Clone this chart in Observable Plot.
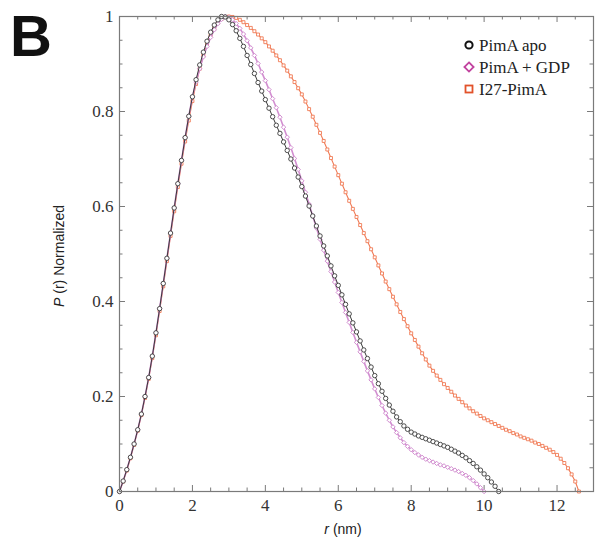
<!DOCTYPE html>
<html><head><meta charset="utf-8">
<script src="https://cdn.jsdelivr.net/npm/d3@7"></script>
<script src="https://cdn.jsdelivr.net/npm/@observablehq/plot@0.6"></script>
<style>
body{margin:0;background:#fff;}
#wrap{position:relative;width:602px;height:544px;}
</style></head><body><div id="wrap"></div>
<script>
// sampling grid of r (nm)
const rStep = 0.1;
// PimA apo, r = 0 .. 10.4
const apo = [0,0.022,0.046,0.072,0.100,0.130,0.163,0.200,0.240,0.285,
0.334,0.385,0.438,0.491,0.544,0.597,0.648,0.697,0.745,0.790,
0.831,0.867,0.898,0.925,0.948,0.967,0.982,0.993,1.000,0.999,
0.993,0.983,0.970,0.954,0.937,0.918,0.899,0.880,0.861,0.843,
0.825,0.807,0.789,0.771,0.754,0.736,0.718,0.700,0.681,0.662,
0.642,0.622,0.601,0.580,0.559,0.538,0.517,0.496,0.475,0.454,
0.434,0.414,0.394,0.374,0.355,0.336,0.317,0.298,0.280,0.262,
0.244,0.227,0.211,0.196,0.182,0.169,0.157,0.147,0.138,0.131,
0.125,0.121,0.117,0.114,0.111,0.108,0.105,0.102,0.099,0.096,
0.093,0.089,0.085,0.081,0.076,0.071,0.065,0.059,0.052,0.045,
0.037,0.029,0.020,0.011,0.000];
// PimA + GDP, r = 0 .. 10.0
const gdp = [0,0.022,0.046,0.072,0.100,0.130,0.163,0.200,0.240,0.285,
0.334,0.385,0.438,0.491,0.544,0.597,0.648,0.697,0.745,0.790,
0.831,0.862,0.890,0.915,0.937,0.956,0.972,0.985,0.994,1.000,
0.998,0.993,0.985,0.975,0.963,0.949,0.934,0.918,0.901,0.883,
0.865,0.846,0.827,0.808,0.788,0.767,0.746,0.724,0.701,0.678,
0.654,0.630,0.605,0.580,0.555,0.531,0.508,0.485,0.463,0.441,
0.419,0.398,0.377,0.356,0.335,0.314,0.294,0.274,0.254,0.235,
0.216,0.198,0.181,0.165,0.150,0.136,0.124,0.113,0.103,0.095,
0.088,0.082,0.077,0.072,0.068,0.065,0.062,0.059,0.056,0.054,
0.051,0.048,0.045,0.042,0.038,0.034,0.029,0.023,0.016,0.008,
0.000];
// I27-PimA, r = 0 .. 12.6
const i27 = [0,0.021,0.044,0.070,0.098,0.128,0.161,0.197,0.237,0.281,
0.329,0.380,0.432,0.485,0.538,0.590,0.641,0.690,0.737,0.781,
0.822,0.858,0.890,0.918,0.942,0.961,0.976,0.987,0.995,0.999,
1.000,0.999,0.997,0.993,0.988,0.982,0.976,0.969,0.962,0.954,
0.946,0.937,0.928,0.918,0.908,0.897,0.886,0.874,0.862,0.849,
0.836,0.821,0.805,0.789,0.772,0.755,0.738,0.720,0.702,0.684,
0.666,0.648,0.630,0.612,0.595,0.578,0.561,0.544,0.527,0.510,
0.493,0.476,0.459,0.442,0.426,0.410,0.394,0.378,0.363,0.348,
0.333,0.319,0.305,0.291,0.278,0.265,0.254,0.244,0.235,0.226,
0.218,0.210,0.202,0.195,0.188,0.181,0.175,0.169,0.164,0.159,
0.154,0.150,0.146,0.142,0.138,0.134,0.130,0.127,0.123,0.120,
0.116,0.113,0.110,0.107,0.103,0.100,0.096,0.092,0.088,0.083,
0.077,0.069,0.060,0.049,0.036,0.021,0.000];

const seriesNames = ["PimA apo", "PimA + GDP", "I27-PimA"];
const xTicks = [0, 2, 4, 6, 8, 10, 12];
const xMinor = [0,0.5,1,1.5,2,2.5,3,3.5,4,4.5,5,5.5,6,6.5,7,7.5,8,8.5,9,9.5,10,10.5,11,11.5,12,12.5,13];
const yTicks = [0, 0.2, 0.4, 0.6, 0.8, 1];
const yTickLabels = ["0", "0.2", "0.4", "0.6", "0.8", "1"];
const yMinor = [0,0.05,0.1,0.15,0.2,0.25,0.3,0.35,0.4,0.45,0.5,0.55,0.6,0.65,0.7,0.75,0.8,0.85,0.9,0.95,1];

const toRows = (vals, s) => vals.map((p, i) => ({r: +(i * rStep).toFixed(1), p, s}));
const apoRows = toRows(apo, seriesNames[0]);
const gdpRows = toRows(gdp, seriesNames[1]);
const i27Rows = toRows(i27, seriesNames[2]);

const W = 602, H = 544, mL = 119, mR = 9, mT = 16, mB = 53;
const xMax = 13;
const pxX = (W - mL - mR) / xMax, pxY = (H - mT - mB);
const majX = 6 / pxX, minX = 3.5 / pxX, majY = 6 / pxY, minY = 3.5 / pxY;
const isMajX = d => xTicks.includes(d);
const isMajY = d => yTicks.includes(d);
const tickColor = "#7a7a7a";

const cBlack = "#3a3a3a", cPink = "#d28ed0", cOrange = "#f07a55";

const chart = Plot.plot({
  width: W, height: H,
  marginLeft: mL, marginRight: mR, marginTop: mT, marginBottom: mB,
  x: {domain: [0, xMax]},
  y: {domain: [0, 1]},
  style: {fontFamily: "'Liberation Serif', 'Times New Roman', serif", background: "white", overflow: "visible"},
  marks: [
    // inward ticks on all four sides
    Plot.ruleX(xMinor, {x: d => d, y1: 0, y2: d => isMajX(d) ? majY : minY, stroke: tickColor, strokeWidth: 1}),
    Plot.ruleX(xMinor, {x: d => d, y1: 1, y2: d => 1 - (isMajX(d) ? majY : minY), stroke: tickColor, strokeWidth: 1}),
    Plot.ruleY(yMinor, {y: d => d, x1: 0, x2: d => isMajY(d) ? majX : minX, stroke: tickColor, strokeWidth: 1}),
    Plot.ruleY(yMinor, {y: d => d, x1: xMax, x2: d => xMax - (isMajY(d) ? majX : minX), stroke: tickColor, strokeWidth: 1}),
    // data
    Plot.line(i27Rows, {x: "r", y: "p", stroke: cOrange, strokeWidth: 1.1}),
    Plot.dot(i27Rows, {x: "r", y: "p", symbol: "square2", r: 1.9, stroke: cOrange, strokeWidth: 0.9, fill: "white"}),
    Plot.line(gdpRows, {x: "r", y: "p", stroke: cPink, strokeWidth: 1.6}),
    Plot.dot(gdpRows, {x: "r", y: "p", symbol: "diamond2", r: 2.0, stroke: cPink, strokeWidth: 1, fill: "white"}),
    Plot.line(apoRows, {x: "r", y: "p", stroke: cBlack, strokeWidth: 1}),
    Plot.dot(apoRows, {x: "r", y: "p", symbol: "circle", r: 2.2, stroke: cBlack, strokeWidth: 0.9, fill: "white"}),
    Plot.frame({stroke: tickColor, strokeWidth: 1.2}),
    Plot.axisX(xTicks, {anchor: "bottom", tickSize: 0, tickPadding: 7, fontSize: 17, fill: "#333", label: null}),
    Plot.axisY(yTicks, {anchor: "left", tickSize: 0, tickPadding: 6, fontSize: 17, fill: "#333", label: null,
      tickFormat: d => yTickLabels[yTicks.indexOf(d)]})
  ]
});
document.getElementById("wrap").appendChild(chart);

const svg = d3.select(chart);
// panel letter
svg.append("text").attr("x", 10).attr("y", 56).attr("text-anchor", "start")
  .attr("font-family", "'Liberation Sans', Arial, sans-serif").attr("font-weight", "bold")
  .attr("font-size", 58).attr("fill", "#111").text("B");
// y axis title
const yt = svg.append("text")
  .attr("transform", "translate(64,256) rotate(-90)")
  .attr("text-anchor", "middle")
  .attr("font-family", "'Liberation Sans', Arial, sans-serif").attr("font-size", 14).attr("fill", "#222");
yt.append("tspan").attr("font-style", "italic").text("P");
yt.append("tspan").text(" (r) Normalized");
// x axis title
const xt = svg.append("text")
  .attr("x", 343).attr("y", 534).attr("text-anchor", "middle")
  .attr("font-family", "'Liberation Sans', Arial, sans-serif").attr("font-size", 14).attr("fill", "#222");
xt.append("tspan").attr("font-style", "italic").text("r");
xt.append("tspan").text(" (nm)");
// legend
const lg = svg.append("g").attr("text-anchor", "start")
  .attr("font-family", "'Liberation Serif', 'Times New Roman', serif").attr("font-size", 17).attr("fill", "#222");
const legendY = [45, 67, 89];
lg.append("circle").attr("cx", 469).attr("cy", legendY[0]).attr("r", 3.6).attr("fill", "white").attr("stroke", "#111").attr("stroke-width", 2);
lg.append("path").attr("d", `M469,${legendY[1]-4.6}L473.6,${legendY[1]}L469,${legendY[1]+4.6}L464.4,${legendY[1]}Z`).attr("fill", "white").attr("stroke", "#c2439f").attr("stroke-width", 1.8);
lg.append("rect").attr("x", 465.5).attr("y", legendY[2]-3.5).attr("width", 7).attr("height", 7).attr("fill", "white").attr("stroke", "#e2522a").attr("stroke-width", 1.8);
seriesNames.forEach((n, i) => {
  lg.append("text").attr("x", 479).attr("y", legendY[i]).attr("dy", "0.34em").attr("text-anchor", "start").text(n);
});
</script></body></html>
